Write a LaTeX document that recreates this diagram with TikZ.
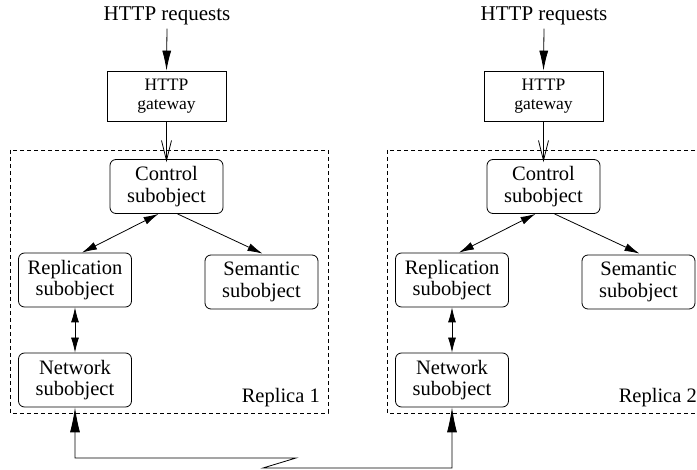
\documentclass[tikz,border=0pt]{standalone}
\usepackage{fontspec}
\setmainfont{Liberation Serif}
\usetikzlibrary{arrows.meta,calc}
\tikzset{
  sub/.style={draw,rounded corners=6pt,line width=0.8pt,minimum width=113pt,minimum height=54pt,align=center,inner sep=0pt,font=\fontsize{20.5}{21.5}\selectfont},
  gwbox/.style={draw,line width=0.8pt,minimum width=119pt,minimum height=50pt,align=center,inner sep=0pt,font=\fontsize{17.5}{19.5}\selectfont},
  big/.style={font=\fontsize{21}{23}\selectfont},
  lbl/.style={font=\fontsize{20.5}{23}\selectfont,anchor=east,inner sep=0pt},
  replbox/.style={draw,dashed,line width=0.7pt,dash pattern=on 4pt off 3pt},
  conn/.style={line width=0.8pt},
  reqtip/.style={-{Latex[length=20pt,width=9pt]}},
  midtip/.style={{Latex[length=15pt,width=8pt]}-{Latex[length=15pt,width=8pt]}},
  onetip/.style={-{Latex[length=15pt,width=8pt]}},
  longtip/.style={{Latex[length=25pt,width=10pt]}-{Latex[length=25pt,width=10pt]}},
  opentip/.style={-{Straight Barb[length=20pt,width=10pt]}},
}
\begin{document}
\begin{tikzpicture}[x=1pt,y=-1pt]
\useasboundingbox (0,0) rectangle (697,470);
\clip (0,0) rectangle (697,470);
\fill[white] (0,0) rectangle (697,470);
% ---------- replica 1 ----------
\draw[replbox] (10,150) rectangle (328,413);
\node[big] (req1) at (167,16) {HTTP requests};
\node[gwbox] (gw1) at (166.5,96) {HTTP\\gateway};
\node[sub] (ctl1) at (166.5,186.5) {Control\\subobject};
\node[sub] (rep1) at (75,280) {Replication\\subobject};
\node[sub] (sem1) at (261.5,282) {Semantic\\subobject};
\node[sub] (net1) at (75,380) {Network\\subobject};
\node[lbl] (lab1) at (320,398) {Replica 1};
% ---------- replica 2 ----------
\draw[replbox] (387,150) rectangle (705,413);
\node[big] (req2) at (544,16) {HTTP requests};
\node[gwbox] (gw2) at (543.5,96) {HTTP\\gateway};
\node[sub] (ctl2) at (543.5,186.5) {Control\\subobject};
\node[sub] (rep2) at (452,280) {Replication\\subobject};
\node[sub] (sem2) at (638.5,282) {Semantic\\subobject};
\node[sub] (net2) at (452,380) {Network\\subobject};
\node[lbl] (lab2) at (697,398) {Replica 2};
% ---------- connectors ----------
\foreach \i in {1,2}{
  \draw[conn,reqtip] (req\i.south) -- (gw\i.north);
  \draw[conn,opentip] (gw\i.south) -- ($(ctl\i.north)+(0,3)$);
  \draw[conn,midtip] ($(rep\i.north)+(7,0)$) -- ($(ctl\i.south)+(-8,0)$);
  \draw[conn,onetip] ($(ctl\i.south)+(11,0)$) -- ($(sem\i.north)+(1,-1)$);
  \draw[conn,midtip] (rep\i.south) -- (net\i.south |- net\i.north);
}
\coordinate (z1) at (296,458);
\coordinate (z2) at (263,468);
\draw[conn,longtip] (net1.south) |- (z1) -- (z2) -| (net2.south);
\end{tikzpicture}
\end{document}
